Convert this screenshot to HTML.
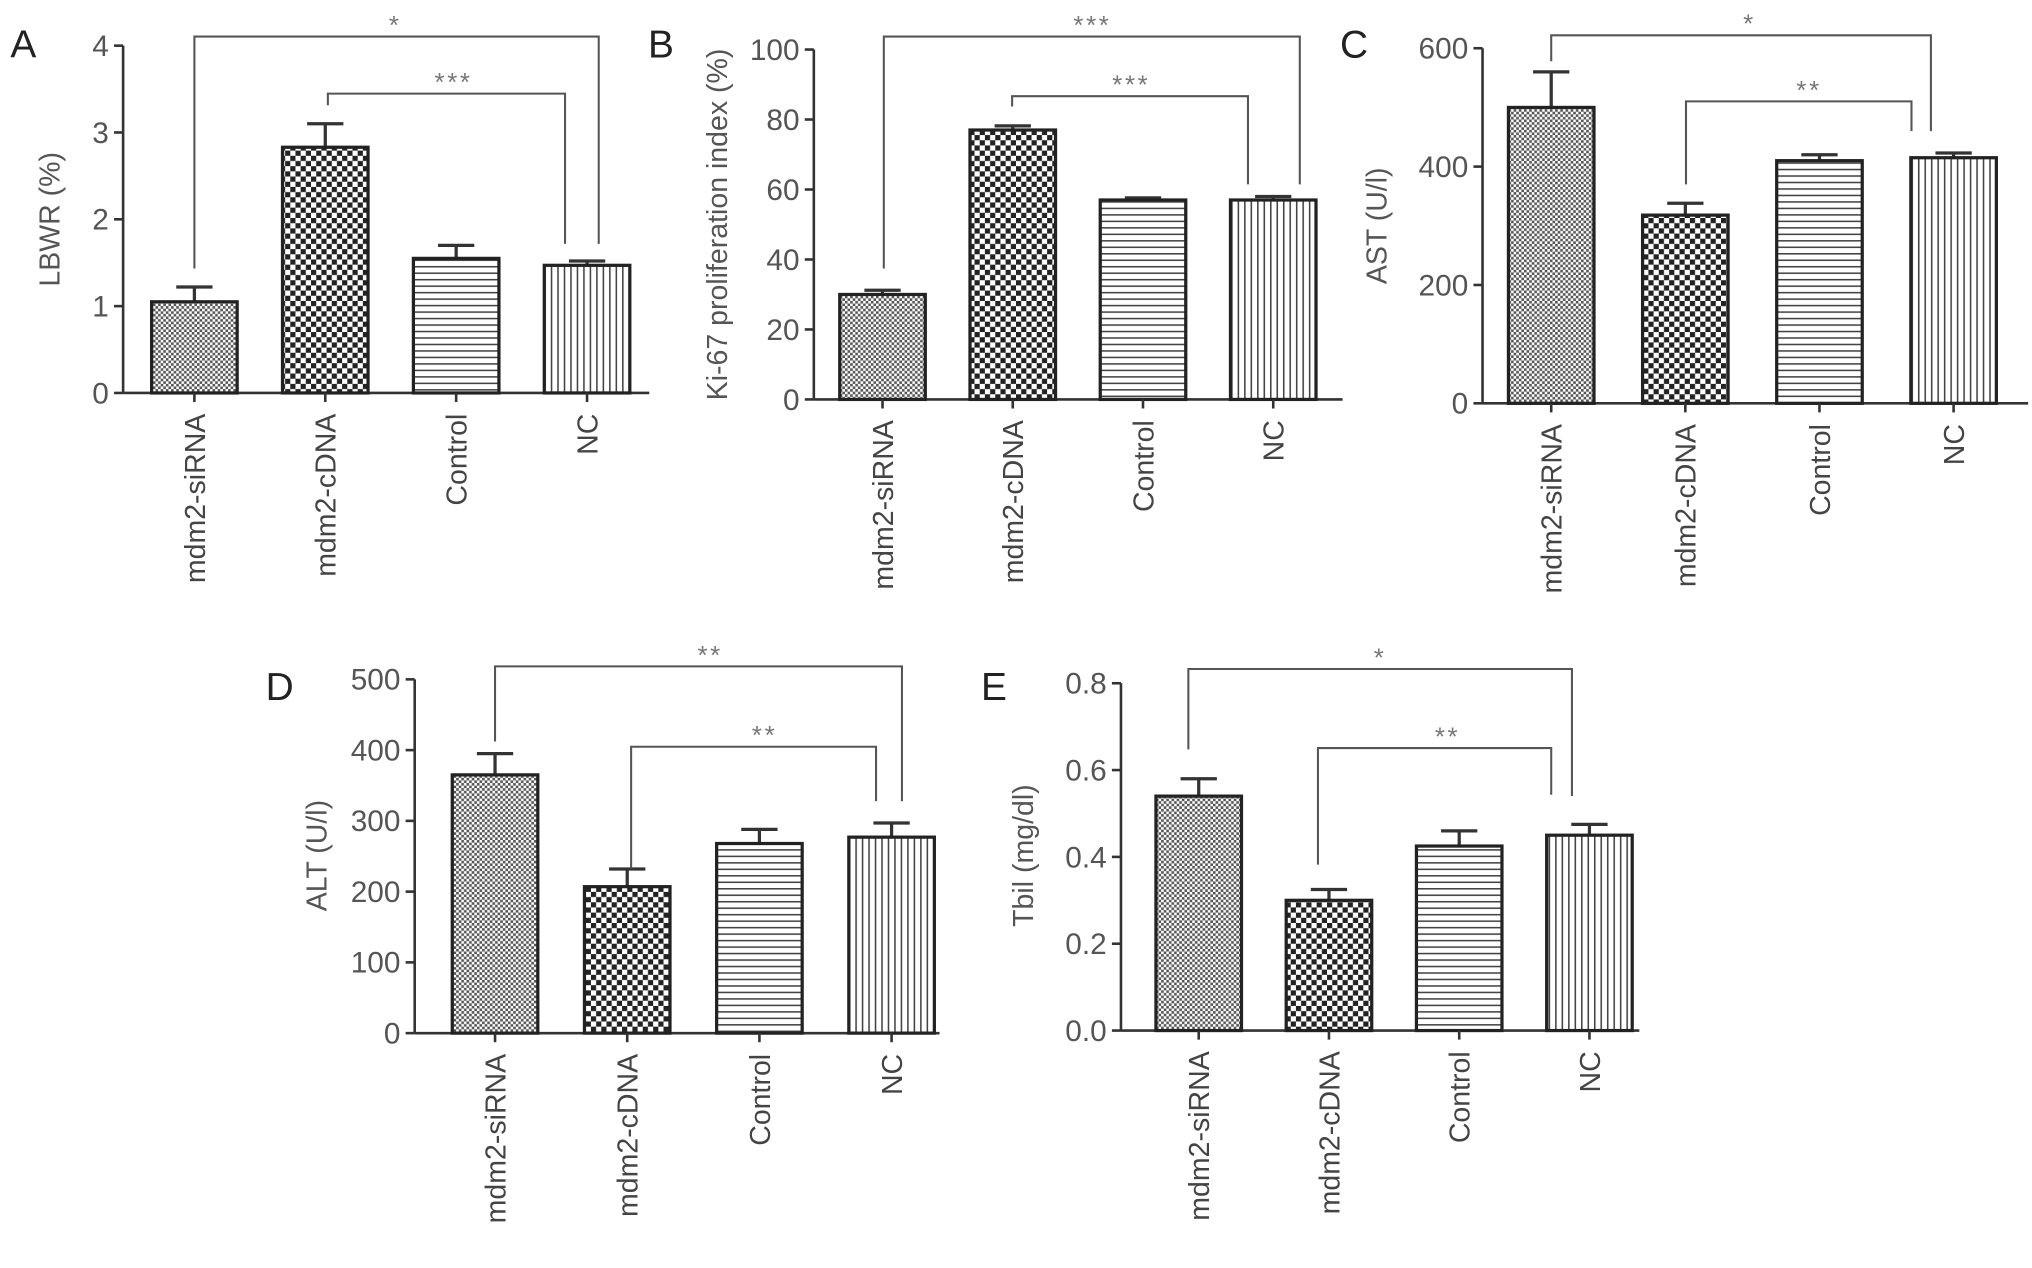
<!DOCTYPE html>
<html><head><meta charset="utf-8"><style>
html,body{margin:0;padding:0;background:#fff;}
svg{display:block;font-family:"Liberation Sans",sans-serif;}
</style></head><body>
<svg id="fig" width="2032" height="1268" viewBox="0 0 1568 978" xmlns="http://www.w3.org/2000/svg">
<defs>
<pattern id="pFine" patternUnits="userSpaceOnUse" width="4" height="4"><rect width="4" height="4" fill="#fff"/><rect width="2" height="2" fill="#555"/><rect x="2" y="2" width="2" height="2" fill="#555"/></pattern>
<pattern id="pCoarse" patternUnits="userSpaceOnUse" width="8" height="8"><rect width="8" height="8" fill="#fff"/><rect width="4" height="4" fill="#222"/><rect x="4" y="4" width="4" height="4" fill="#222"/></pattern>
<pattern id="pHoriz" patternUnits="userSpaceOnUse" width="4" height="5"><rect width="4" height="5" fill="#fff"/><rect y="0" width="4" height="1.2" fill="#444"/></pattern>
<pattern id="pVert" patternUnits="userSpaceOnUse" width="5" height="4"><rect width="5" height="4" fill="#fff"/><rect x="0" width="1.2" height="4" fill="#444"/></pattern>
</defs>
</svg>
<script>
const categories = ["mdm2-siRNA","mdm2-cDNA","Control","NC"];
const aValues = [1.05, 2.83, 1.55, 1.47];
const aErrors = [0.17, 0.27, 0.15, 0.05];
const aTicks = [0,1,2,3,4];
const bValues = [30, 77, 57, 57];
const bErrors = [1.2, 1.2, 0.6, 1.0];
const bTicks = [0,20,40,60,80,100];
const cValues = [500, 318, 410, 415];
const cErrors = [60, 20, 10, 8];
const cTicks = [0,200,400,600];
const dValues = [365, 207, 268, 277];
const dErrors = [30, 25, 20, 20];
const dTicks = [0,100,200,300,400,500];
const eValues = [0.54, 0.30, 0.425, 0.45];
const eErrors = [0.04, 0.025, 0.035, 0.025];
const eTicks = ["0.0","0.2","0.4","0.6","0.8"];

const svg = document.getElementById('fig');
const NS = 'http://www.w3.org/2000/svg';
const fills = ['url(#pFine)','url(#pCoarse)','url(#pHoriz)','url(#pVert)'];
function mk(tag, attrs, parent){
  const e = document.createElementNS(NS, tag);
  for (const k in attrs) e.setAttribute(k, attrs[k]);
  (parent||svg).appendChild(e);
  return e;
}
function panel(cfg){
  const g = mk('g', {});
  
  
  const y = v => cfg.y0 - (v - 0) / cfg.max * (cfg.y0 - cfg.yTop);
  const x = i => cfg.x0 + cfg.first + i * cfg.step;
  const L = mk('text', {x: cfg.lx, y: cfg.ly, 'font-size': 30, fill: '#222'}, g);
  L.textContent = cfg.letter;
  
  
  const ya = mk('line', {x1: cfg.x0, y1: y(cfg.max), x2: cfg.x0, y2: cfg.y0, stroke: '#333', 'stroke-width': 2}, g);
  
  
  cfg.ticks.forEach(t => {
    const v = parseFloat(t);
    mk('line', {x1: cfg.x0 - 7, y1: y(v), x2: cfg.x0, y2: y(v), stroke: '#333', 'stroke-width': 2}, g);
    const tt = mk('text', {x: cfg.x0 - 11, y: y(v) + 8, 'font-size': 23, fill: '#555', 'text-anchor': 'end'}, g);
    tt.textContent = t;
    
    
  });
  const yt = mk('text', {x: 0, y: 0, 'font-size': 22, fill: '#555', 'text-anchor': 'middle', transform: `translate(${cfg.ytx},${cfg.yty}) rotate(-90)`}, g);
  yt.textContent = cfg.title;
  
  
  const xa = mk('line', {x1: cfg.x0, y1: cfg.y0, x2: cfg.xEnd, y2: cfg.y0, stroke: '#333', 'stroke-width': 2}, g);
  
  
  cfg.values.forEach((v, i) => {
    const cx = x(i), w = cfg.bw;
    const et = y(v + cfg.errors[i]);
    mk('line', {x1: cx, y1: y(v), x2: cx, y2: et, stroke: '#333', 'stroke-width': 2.5}, g);
    mk('line', {x1: cx - 14, y1: et, x2: cx + 14, y2: et, stroke: '#333', 'stroke-width': 2.5}, g);
    const b = mk('rect', {x: cx - w/2, y: y(v), width: w, height: cfg.y0 - y(v), fill: fills[i], stroke: '#222', 'stroke-width': 2.5}, g);
    
    
    mk('line', {x1: cx, y1: cfg.y0, x2: cx, y2: cfg.y0 + 7, stroke: '#333', 'stroke-width': 2}, g);
    const ct = mk('text', {x: 0, y: 0, 'font-size': 22, fill: '#444', 'text-anchor': 'end', transform: `translate(${cx + 8},${cfg.y0 + 16}) rotate(-90)`}, g);
    ct.textContent = categories[i];
    
    
  });
  cfg.brackets.forEach(br => {
    const p = mk('path', {d: `M${br.x1},${br.l} V${br.y} H${br.x2} V${br.r}`, fill: 'none', stroke: '#555', 'stroke-width': 1.6}, g);
    
    
    const s = mk('text', {x: br.sx, y: br.y - 2, 'font-size': 20, fill: '#777', 'text-anchor': 'middle', 'letter-spacing': 2}, g);
    s.textContent = br.s;
    
    
  });
}
panel({letter:'A', lx:8, ly:44, x0:95, xEnd:501, y0:303, yTop:35, max:4, ticks:aTicks, values:aValues, errors:aErrors,
  first:55, step:101, bw:66, title:'LBWR (%)', ytx:46, yty:169,
  brackets:[{x1:150,x2:462,y:28,l:207,r:188,s:'*',sx:305},{x1:253,x2:436,y:72,l:81,r:188,s:'***',sx:350}]});
panel({letter:'B', lx:500, ly:44, x0:628, xEnd:1036, y0:308, yTop:38, max:100, ticks:bTicks, values:bValues, errors:bErrors,
  first:53, step:100.5, bw:66, title:'Ki-67 proliferation index (%)', ytx:561, yty:173,
  brackets:[{x1:682,x2:1003,y:28,l:207,r:142,s:'***',sx:843},{x1:781,x2:963,y:74,l:82,r:142,s:'***',sx:873}]});
panel({letter:'C', lx:1034, ly:44, x0:1144, xEnd:1565, y0:311, yTop:37, max:600, ticks:cTicks, values:cValues, errors:cErrors,
  first:53, step:103.5, bw:66, title:'AST (U/l)', ytx:1070, yty:174,
  brackets:[{x1:1197,x2:1490,y:27,l:47,r:101,s:'*',sx:1350},{x1:1301,x2:1475,y:78,l:142,r:101,s:'**',sx:1396}]});
panel({letter:'D', lx:205, ly:540, x0:320, xEnd:725, y0:797, yTop:524, max:500, ticks:dTicks, values:dValues, errors:dErrors,
  first:62, step:102, bw:66, title:'ALT (U/l)', ytx:252, yty:660,
  brackets:[{x1:382,x2:696,y:514,l:572,r:618,s:'**',sx:548},{x1:487,x2:676,y:576,l:670,r:618,s:'**',sx:590}]});
panel({letter:'E', lx:757, ly:540, x0:865, xEnd:1265, y0:795, yTop:527, max:0.8, ticks:eTicks, values:eValues, errors:eErrors,
  first:60, step:100.5, bw:66, title:'Tbil (mg/dl)', ytx:797, yty:660,
  brackets:[{x1:917,x2:1213,y:516,l:578,r:614,s:'*',sx:1065},{x1:1017,x2:1197,y:577,l:667,r:613,s:'**',sx:1117}]});
</script>
</body></html>
